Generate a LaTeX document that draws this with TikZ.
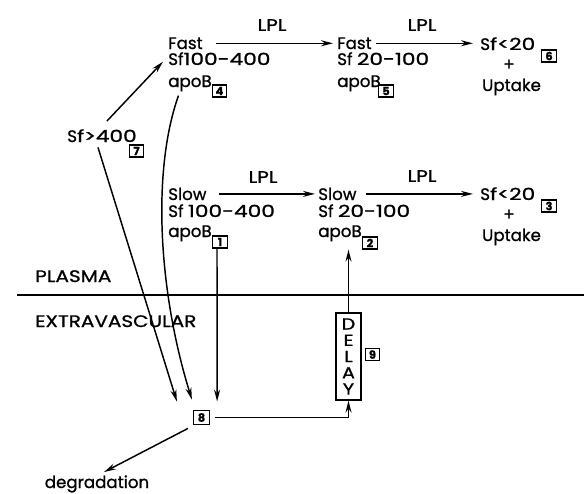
\documentclass[tikz,border=0pt]{standalone}
\usepackage{fontspec}
\setmainfont{Poppins}[FakeBold=1]
\usetikzlibrary{arrows.meta,calc}
\newcommand{\wid}[1]{\scalebox{1.3}[1]{#1}}
\newcommand{\wcap}[1]{\scalebox{1.2}[1]{#1}}
\begin{document}
\begin{tikzpicture}[x=0.75pt,y=-0.75pt,
  lbl/.style={inner sep=0pt, font=\fontsize{12.5}{14}\selectfont},
  num/.style={draw, line width=0.9pt, inner sep=0.5pt, minimum width=11pt, minimum height=9pt, font=\fontsize{8.5}{8.5}\selectfont\bfseries},
  arr/.style={line width=1.1pt, -{Stealth[length=9pt,width=4.5pt]}},
  ln/.style={line width=1.1pt}]
\useasboundingbox (0,0) rectangle (584,493);
% LPL labels
\node[lbl] (lplA) at (272,25) {\wcap{LPL}};
\node[lbl] (lplB) at (422,25) {\wcap{LPL}};
\node[lbl] (lplC) at (263,177) {\wcap{LPL}};
\node[lbl] (lplD) at (422,176) {\wcap{LPL}};
% fast column 1
\node[lbl,anchor=base west] (fastA) at (168,49) {Fast};
\node[lbl,anchor=base west] (sfA) at (168,65) {Sf\wid{100-400}};
\node[lbl,anchor=base west] (apoA) at (168,87) {apoB};
\node[num] (n4) at (219.5,91) {4};
% fast column 2
\node[lbl,anchor=base west] (fastB) at (337,49) {Fast};
\node[lbl,anchor=base west] (sfB) at (337,65) {Sf \wid{20-100}};
\node[lbl,anchor=base west] (apoB) at (337,87) {apoB};
\node[num] (n5) at (386,91) {5};
% fast end
\node[lbl,anchor=base west] (endA) at (480,50) {S\wid{f<20}};
\node[lbl] (plusA) at (509,65) {+};
\node[lbl,anchor=base] (upA) at (511.5,91) {Uptake};
\node[num] (n6) at (549,56) {6};
% slow column 1
\node[lbl,anchor=base west] (slowA) at (168,200) {Slow};
\node[lbl,anchor=base west] (sfC) at (168,217) {Sf \wid{100-400}};
\node[lbl,anchor=base west] (apoC) at (168,237) {apoB};
\node[num] (n1) at (220,242) {1};
% slow column 2
\node[lbl,anchor=base west] (slowB) at (318,200) {Slow};
\node[lbl,anchor=base west] (sfD) at (318,217) {Sf \wid{20-100}};
\node[lbl,anchor=base west] (apoD) at (318,237) {apoB};
\node[num] (n2) at (370,243) {2};
% slow end
\node[lbl,anchor=base west] (endB) at (480,200) {S\wid{f<20}};
\node[lbl] (plusB) at (509,215) {+};
\node[lbl,anchor=base] (upB) at (511.5,241) {Uptake};
\node[num] (n3) at (549,206) {3};
% Sf>400
\node[lbl,anchor=base west] (sf7) at (67,142) {S\wid{f>400}};
\node[num] (n7) at (136.5,151) {7};
% compartments
\coordinate (pl) at (17,295);
\coordinate (pr) at (584,295);
\draw[ln] (pl) -- (pr);
\node[lbl,anchor=base west] (plasma) at (35,282) {\wcap{PLASMA}};
\node[lbl,anchor=base west] (extra) at (35,327) {\wcap{EXTRAVASCULAR}};
% box 8, delay
\node[num, minimum width=12pt, minimum height=11pt] (n8) at (201.5,417.5) {8};
\node[draw, line width=0.9pt, minimum width=18.75pt, minimum height=65.25pt, inner sep=0pt, align=center,
  font=\fontsize{12}{12.2}\selectfont] (delay) at (348.5,356.5) {\wcap{D}\\\wcap{E}\\\wcap{L}\\\wcap{A}\\\wcap{Y}};
\node[num] (n9) at (372.5,354.5) {9};
\node[lbl,anchor=base] (deg) at (97,488) {degradation};
% connectors
\draw[arr] ($(fastA.east)+(13,0)$) -- ($(fastA.east -| fastB.west)+(-4,0)$);
\draw[arr] ($(fastB.east)+(4,0)$) -- ($(fastB.east -| endA.west)+(-7,0)$);
\draw[arr] ($(slowA.east)+(12,0)$) -- ($(slowA.east -| slowB.west)+(-3,0)$);
\draw[arr] ($(slowB.east)+(9,0)$) -- ($(slowB.east -| endB.west)+(-7,0)$);
\draw[arr] ($(sf7.north)+(5,-8)$) -- ($(sfA.west)+(-5,3)$);
\draw[arr] ($(sf7.south)+(-4,5)$) -- ($(n8.north west)+(-16,-8)$);
\draw[arr] ($(apoA.south)+(-11.5,4)$) .. controls (152,170) and (158,290) .. ($(n8.north west)+(-1,-10)$);
\draw[arr] ($(n1.south)+(-3,0)$) -- ($(n8.north east)+(7,-8)$);
\draw[arr] ($(n8.east)+(5,0)$) -- (n8.east -| delay.south) -- (delay.south);
\draw[arr] (delay.north) -- (delay.north |- n2.south);
\draw[arr] ($(n8.south west)+(-5,3)$) -- ($(deg.north)+(7,-3)$);
\end{tikzpicture}
\end{document}
